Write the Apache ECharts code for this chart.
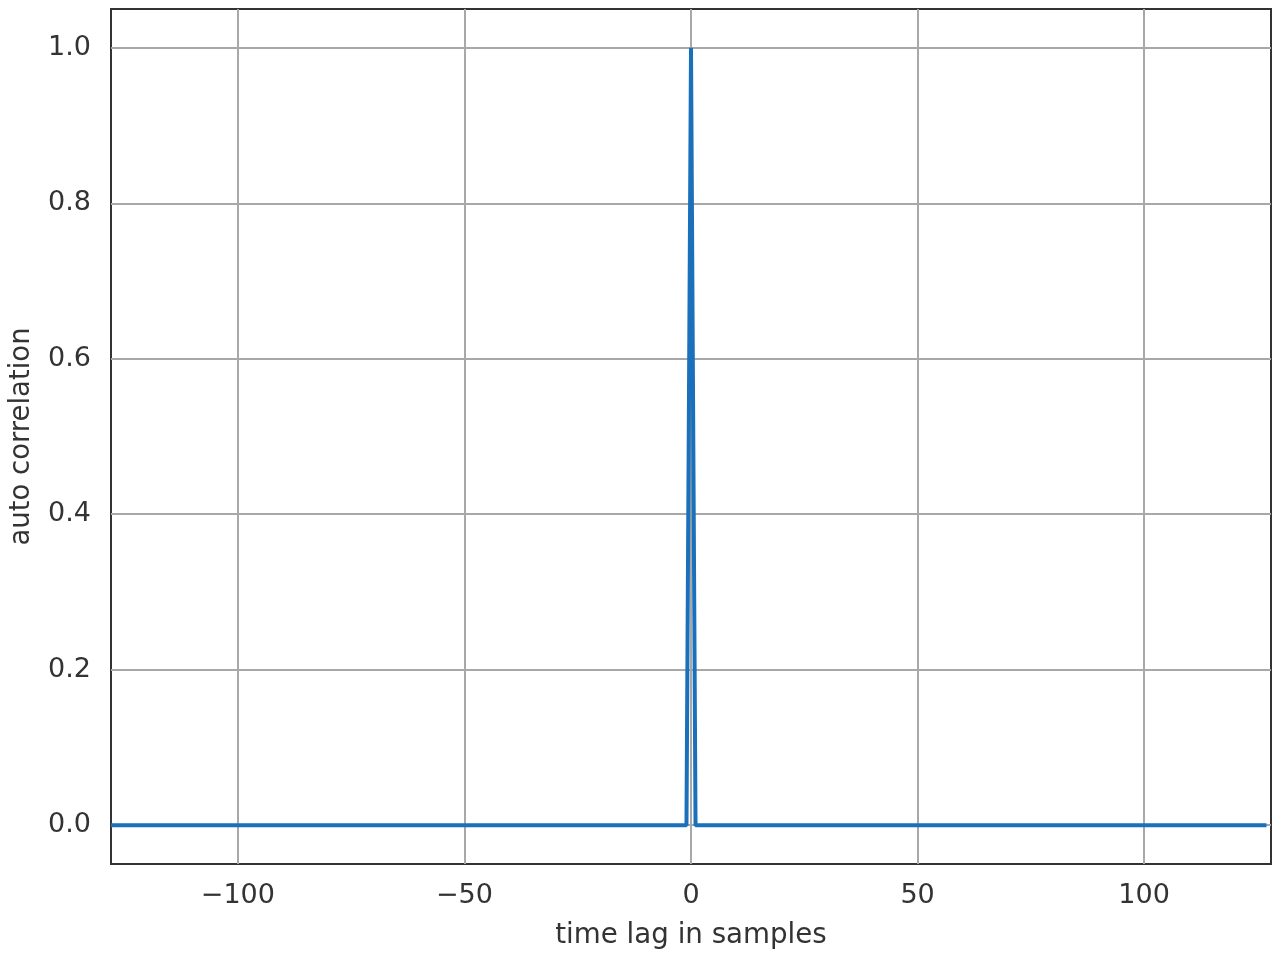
<!DOCTYPE html>
<html>
<head>
<meta charset="utf-8">
<script src="https://cdn.jsdelivr.net/npm/echarts@6/dist/echarts.min.js"></script>
<style>html,body{margin:0;padding:0;background:#fff}#c{width:1280px;height:960px}</style>
</head>
<body>
<div id="c"></div>
<script>
// Data: flat zero everywhere except the peak at lag 0
const lags = [-128, -1, 0, 1, 127];
const autoCorr = [0, 0, 1, 0, 0];
const xTicks = [-100, -50, 0, 50, 100];
const yTicks = [0, 0.2, 0.4, 0.6, 0.8, 1.0];

const font = 'DejaVu Sans';
const chart = echarts.init(document.getElementById('c'));
chart.setOption({
  animation: false,
  backgroundColor: '#ffffff',
  textStyle: { fontFamily: font },
  grid: { left: 111, right: 9, top: 9, bottom: 96, show: true, borderColor: '#333333', borderWidth: 2, backgroundColor: 'transparent' },
  xAxis: {
    type: 'value', min: -128, max: 128,
    name: 'time lag in samples', nameLocation: 'middle', nameGap: 58,
    nameTextStyle: { fontFamily: font, fontSize: 27.7, color: '#333333' },
    axisLine: { show: false },
    axisTick: { show: false, customValues: xTicks },
    axisLabel: { customValues: xTicks, fontFamily: font, fontSize: 27, color: '#333333', margin: 18,
      formatter: v => (v < 0 ? '\u2212' + Math.abs(v) : String(v)) },
    splitLine: { show: true, lineStyle: { color: '#a8a8a8', width: 2 } }
  },
  yAxis: {
    type: 'value', min: -0.05, max: 1.05,
    name: 'auto correlation', nameLocation: 'middle', nameGap: 75,
    nameTextStyle: { fontFamily: font, fontSize: 27.5, color: '#333333' },
    axisLine: { show: false },
    axisTick: { show: false, customValues: yTicks },
    axisLabel: { customValues: yTicks, fontFamily: font, fontSize: 27, color: '#333333', margin: 20,
      formatter: v => v.toFixed(1) },
    splitLine: { show: true, lineStyle: { color: '#a8a8a8', width: 2 } }
  },
  series: [{
    type: 'line',
    data: lags.map((l, i) => [l, autoCorr[i]]),
    showSymbol: false,
    lineStyle: { color: '#1a70ba', width: 4 },
    itemStyle: { color: '#1a70ba' },
    z: 3
  }]
});
</script>
</body>
</html>
